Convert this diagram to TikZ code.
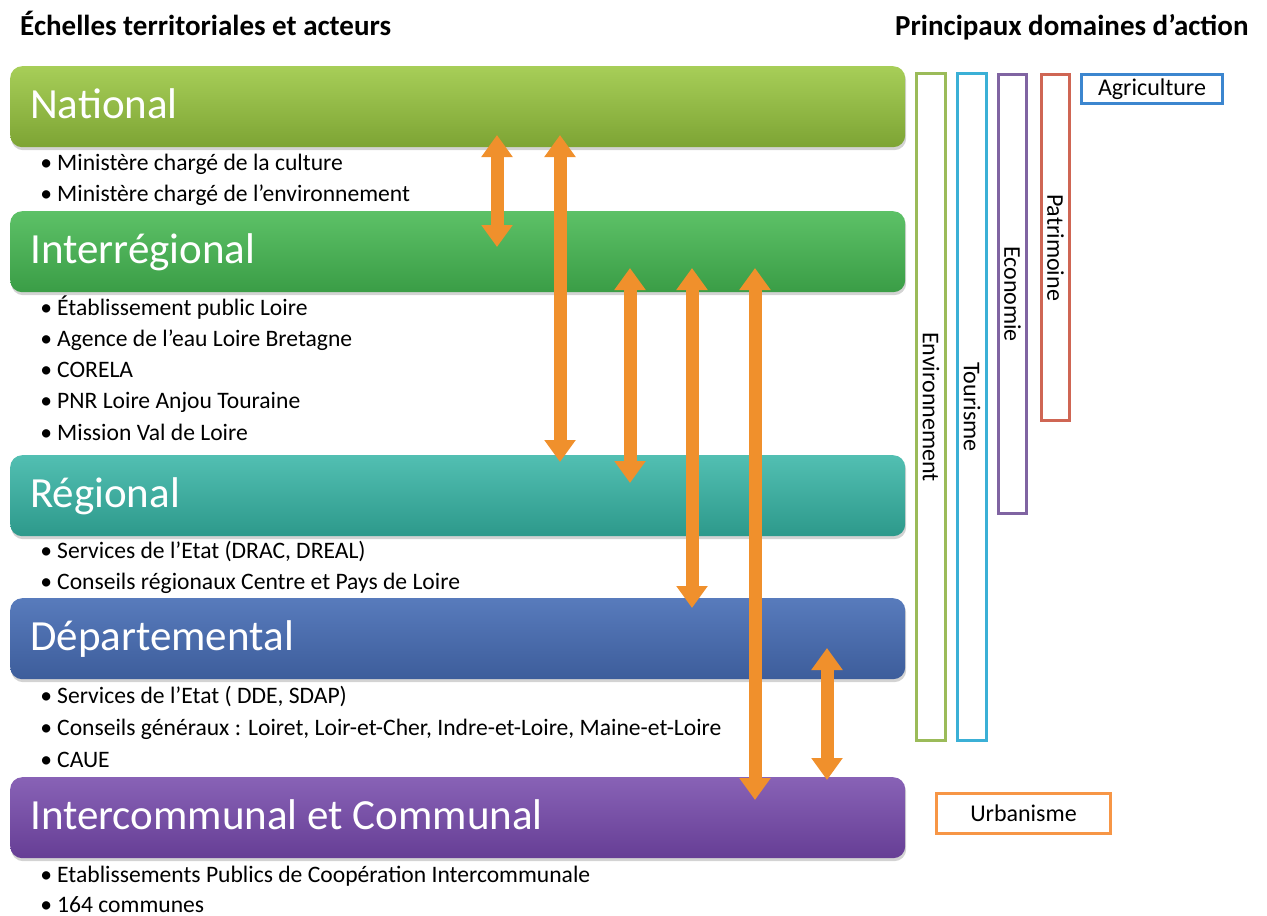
\documentclass[tikz,border=0pt]{standalone}
\usepackage{fontspec}
\setmainfont{Carlito}
\usetikzlibrary{arrows.meta,shadows}

\definecolor{nathaut}{HTML}{A7CE58}
\definecolor{natbas}{HTML}{7DA434}
\definecolor{interhaut}{HTML}{5DC167}
\definecolor{interbas}{HTML}{3A9D46}
\definecolor{reghaut}{HTML}{52BFB2}
\definecolor{regbas}{HTML}{2D998B}
\definecolor{dephaut}{HTML}{587BBC}
\definecolor{depbas}{HTML}{3D5D9B}
\definecolor{comhaut}{HTML}{8862B6}
\definecolor{combas}{HTML}{663E95}
\definecolor{fleche}{HTML}{F0902C}
\definecolor{envvert}{HTML}{9BBB59}
\definecolor{tourbleu}{HTML}{3BB0D6}
\definecolor{ecoviolet}{HTML}{8064A2}
\definecolor{patrouge}{HTML}{CF6654}
\definecolor{agribleu}{HTML}{3C86CF}
\definecolor{urborange}{HTML}{F79646}

\begin{document}
\begin{tikzpicture}[x=1bp, y=-1bp,
    echelle/.style={rounded corners=12bp, minimum width=895bp, minimum height=81bp,
      anchor=north west, inner sep=0pt,
      drop shadow={opacity=.35, shadow xshift=1bp, shadow yshift=-3bp}},
    titre/.style={anchor=base west, inner sep=0pt, text=white,
      font=\fontsize{43bp}{48bp}\selectfont},
    acteur/.style={anchor=base west, inner sep=0pt,
      font=\fontsize{23.6bp}{28bp}\selectfont},
    entete/.style={anchor=base west, inner sep=0pt,
      font=\fontsize{29bp}{34bp}\selectfont\bfseries},
    domaine/.style={draw, line width=3bp, fill=white, inner sep=0pt,
      font=\fontsize{24bp}{28bp}\selectfont},
    lien/.style={draw=fleche, line width=13bp,
      {Triangle[width=30bp,length=22bp]}-{Triangle[width=30bp,length=22bp]}}]
  \useasboundingbox (0,0) rectangle (1267,916);

  % en-tetes
  \node[entete] (gauche) at (20,35) {Échelles territoriales et acteurs};
  \node[entete] (droite) at (895,35) {Principaux domaines d’action};

  % echelles
  \node[echelle, top color=nathaut, bottom color=natbas] (national) at (10,66) {};
  \node[echelle, top color=interhaut, bottom color=interbas] (interreg) at (10,211) {};
  \node[echelle, top color=reghaut, bottom color=regbas] (regional) at (10,455) {};
  \node[echelle, top color=dephaut, bottom color=depbas] (depart) at (10,598) {};
  \node[echelle, top color=comhaut, bottom color=combas] (commune) at (10,777) {};

  \node[titre] (t-nat) at (30,118) {National};
  \node[titre] (t-inter) at (30,263) {Interrégional};
  \node[titre] (t-reg) at (30,507) {Régional};
  \node[titre] (t-dep) at (30,650) {Départemental};
  \node[titre] (t-com) at (30,829) {Intercommunal et Communal};

  % acteurs
  \foreach \txt [count=\i] in {Ministère chargé de la culture,
      Ministère chargé de l’environnement}
    \node[acteur] (nat-\i) at (57,170+31.5*\i-31.5) {\llap{\textbullet\hskip5bp}\txt};
  \foreach \txt [count=\i] in {Établissement public Loire,
      Agence de l’eau Loire Bretagne, CORELA, PNR Loire Anjou Touraine,
      Mission Val de Loire}
    \node[acteur] (inter-\i) at (57,315+31.3*\i-31.3) {\llap{\textbullet\hskip5bp}\txt};
  \foreach \txt [count=\i] in {Services de l’Etat (DRAC{,} DREAL),
      Conseils régionaux Centre et Pays de Loire}
    \node[acteur] (reg-\i) at (57,558+31*\i-31) {\llap{\textbullet\hskip5bp}\txt};
  \foreach \txt [count=\i] in {Services de l’Etat ( DDE{,} SDAP),
      {Conseils généraux : Loiret, Loir-et-Cher, Indre-et-Loire, Maine-et-Loire},
      CAUE}
    \node[acteur] (dep-\i) at (57,703+32*\i-32) {\llap{\textbullet\hskip5bp}\txt};
  \foreach \txt [count=\i] in {Etablissements Publics de Coopération Intercommunale,
      164 communes}
    \node[acteur] (com-\i) at (57,882+30.5*\i-30.5) {\llap{\textbullet\hskip5bp}\txt};

  % liens entre echelles
  \coordinate (h1) at (497,135); \coordinate (b1) at (497,247);
  \coordinate (h2) at (560,135); \coordinate (b2) at (560,462);
  \coordinate (h3) at (630,268); \coordinate (b3) at (630,483);
  \coordinate (h4) at (692,268); \coordinate (b4) at (692,608);
  \coordinate (h5) at (755,268); \coordinate (b5) at (755,800);
  \coordinate (h6) at (827,648); \coordinate (b6) at (827,780);
  \foreach \k in {1,...,6}
    \draw[lien] (h\k) -- (b\k);

  % domaines d'action
  \node[domaine, draw=envvert, rotate=-90, minimum width=666bp, minimum height=29bp]
    (env) at (931,407) {Environnement};
  \node[domaine, draw=tourbleu, rotate=-90, minimum width=666bp, minimum height=29bp]
    (tour) at (972,407) {Tourisme};
  \node[domaine, draw=ecoviolet, rotate=-90, minimum width=439bp, minimum height=28bp]
    (eco) at (1012.5,294) {Economie};
  \node[domaine, draw=patrouge, rotate=-90, minimum width=346bp, minimum height=28bp]
    (patri) at (1055.5,247.5) {Patrimoine};
  \node[domaine, draw=agribleu, minimum width=141bp, minimum height=29bp]
    (agri) at (1152,89) {Agriculture};
  \node[domaine, draw=urborange, minimum width=174bp, minimum height=40bp]
    (urba) at (1023.5,813.5) {Urbanisme};
\end{tikzpicture}
\end{document}
